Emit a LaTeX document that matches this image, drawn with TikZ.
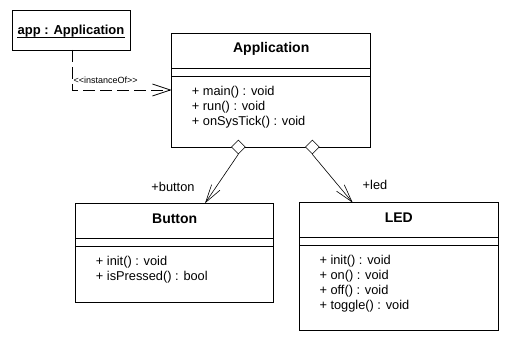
\documentclass[tikz,border=0pt]{standalone}
\usepackage{fontspec}
\setmainfont{Liberation Sans}
\usetikzlibrary{arrows.meta,shapes.geometric,calc}
\begin{document}
\begin{tikzpicture}[x=1pt,y=-1pt,
  box/.style={draw,line width=0.8pt,rectangle,inner sep=0pt,outer sep=0pt},
  sep/.style={line width=0.8pt},
  cname/.style={font=\fontsize{14}{16}\selectfont\bfseries,inner sep=0pt},
  op/.style={font=\fontsize{12.8}{14}\selectfont,inner sep=0pt,anchor=base west},
  lbl/.style={font=\fontsize{12.8}{14}\selectfont,inner sep=0pt},
  dep/.style={line width=0.8pt,dash pattern=on 12pt off 5pt,-{Straight Barb[length=18pt,width=12pt,line width=0.8pt]}},
  assoc/.style={line width=0.6pt,-{Straight Barb[length=18pt,width=10pt,line width=0.6pt]}},
  agg/.style={draw,diamond,fill=white,line width=0.6pt,minimum width=14pt,minimum height=14pt,inner sep=0pt}
]
\useasboundingbox (0,0) rectangle (519,352);

% object box
\node[box,minimum width=118pt,minimum height=40pt] (app) at (71,30) {};
\node[font=\fontsize{13}{15}\selectfont\bfseries,inner sep=0pt,anchor=base] (appt) at (71,35) {app : Application};
\draw[line width=0.8pt] ($(appt.base west)+(0,2)$) -- ($(appt.base east)+(0,2)$);

% Application class
\node[box,minimum width=199pt,minimum height=114pt] (appc) at (271.2,90) {};
\node[cname] (appn) at (271.2,49) {Application};
\draw[sep] ($(appc.north west)+(0,35.3)$) -- ($(appc.north east)+(0,35.3)$);
\draw[sep] ($(appc.north west)+(0,43)$) -- ($(appc.north east)+(0,43)$);
\node[op] (a1) at (191.7,96) {+ main() : void};
\node[op] (a2) at (191.7,110.7) {+ run() : void};
\node[op] (a3) at (191.7,125.4) {+ onSysTick() : void};

% Button class
\node[box,minimum width=198pt,minimum height=99pt] (butt) at (174.7,252.8) {};
\node[cname] (buttn) at (174.7,219) {Button};
\draw[sep] ($(butt.north west)+(0,35)$) -- ($(butt.north east)+(0,35)$);
\draw[sep] ($(butt.north west)+(0,42.7)$) -- ($(butt.north east)+(0,42.7)$);
\node[op] (b1) at (95.7,266) {+ init() : void};
\node[op] (b2) at (95.7,281) {+ isPressed() : bool};

% LED class
\node[box,minimum width=199pt,minimum height=128pt] (led) at (398.8,266.7) {};
\node[cname] (ledn) at (398.8,218) {LED};
\draw[sep] ($(led.north west)+(0,35)$) -- ($(led.north east)+(0,35)$);
\draw[sep] ($(led.north west)+(0,42.3)$) -- ($(led.north east)+(0,42.3)$);
\node[op] (l1) at (319.3,264.3) {+ init() : void};
\node[op] (l2) at (319.3,279.3) {+ on() : void};
\node[op] (l3) at (319.3,294.3) {+ off() : void};
\node[op] (l4) at (319.3,309.3) {+ toggle() : void};

% instanceOf dependency
\coordinate (appbot) at ($(app.south)+(1,0)$);
\draw[dep] (appbot) |- (appc.west);
\node[font=\fontsize{9}{10}\selectfont,inner sep=0pt,anchor=west] (inst) at (73.5,80) {<{}<instanceOf>{}>};

% aggregations
\node[agg] (d1) at (238.3,147) {};
\node[agg] (d2) at (312.3,147) {};
\coordinate (bt) at ($(butt.north west)+(129.3,0)$);
\coordinate (lt) at ($(led.north west)+(53.4,0)$);
\draw[assoc] (d1.south) -- (bt);
\draw[assoc] (d2.south) -- (lt);
\node[lbl] (lb) at (173,186.7) {+button};
\node[lbl] (ll) at (375,185) {+led};
\end{tikzpicture}
\end{document}
